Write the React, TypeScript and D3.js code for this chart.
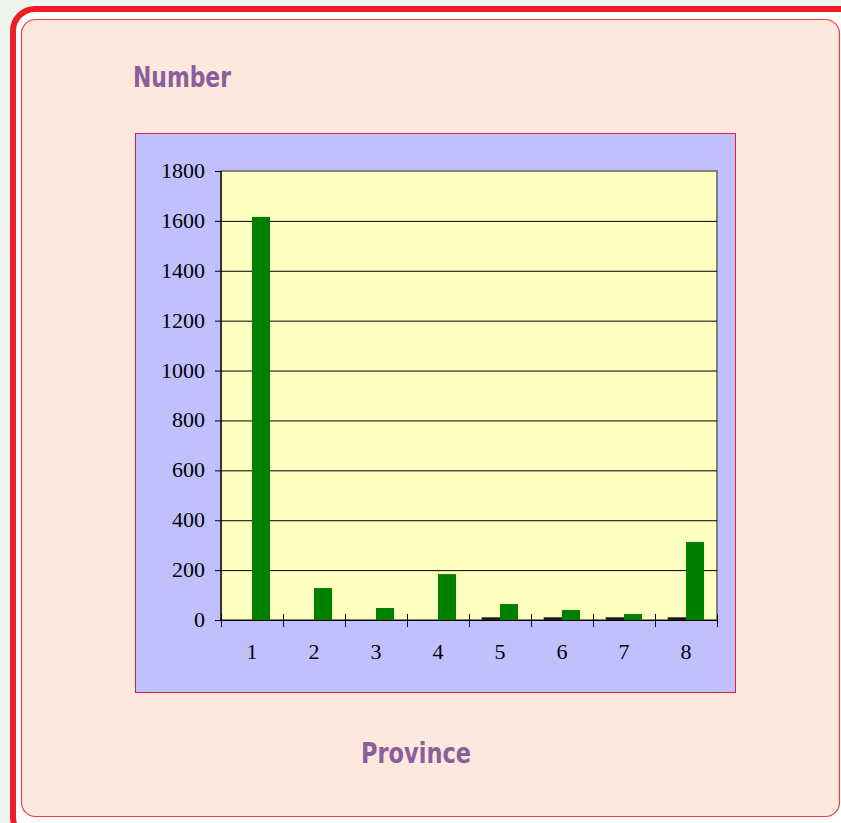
import React from 'react';
import * as d3 from 'd3';

const provinces = ['1', '2', '3', '4', '5', '6', '7', '8'];
const seriesDark = [0, 0, 0, 0, 10, 10, 10, 10];
const seriesGreen = [1616, 128, 48, 184, 64, 40, 24, 313];
const yTicks = [0, 200, 400, 600, 800, 1000, 1200, 1400, 1600, 1800];

const W = 841;
const H = 823;
const PLOT = { left: 221, right: 717, top: 171, bottom: 620 };
const TITLE_COLOR = '#8b5e9b';
const TITLE_FONT = '"DejaVu Sans Condensed", "DejaVu Sans", sans-serif';
const SERIF = '"Liberation Serif", "DejaVu Serif", serif';

export default function App() {
  const x = d3.scaleBand<string>()
    .domain(provinces)
    .range([PLOT.left, PLOT.right]);
  const y = d3.scaleLinear().domain([0, 1800]).range([PLOT.bottom, PLOT.top]);

  const inner = d3.scaleBand<string>()
    .domain(['dark', 'green'])
    .range([0, x.bandwidth()])
    .paddingOuter(0.72)
    .paddingInner(0);

  const rows = provinces.map((p, i) => ({ p, dark: seriesDark[i], green: seriesGreen[i] }));
  const boundaries = d3.range(provinces.length + 1).map(i => PLOT.left + i * x.step());

  return (
    <svg width={W} height={H} style={{ position: 'absolute', left: 0, top: 0 }}>
      <rect x={0} y={0} width={W} height={H} fill="#eef5ee" />
      {/* outer frame */}
      <rect x={13} y={9} width={850} height={830} rx={22} fill="#ffffff" stroke="#ee1c25" strokeWidth={6} />
      <rect x={21.5} y={19.5} width={818} height={797} rx={14} fill="#fde8dd" stroke="#ee3a45" strokeWidth={1.2} />

      <text x={133} y={87} fill={TITLE_COLOR} fontFamily={TITLE_FONT} fontWeight="bold" fontSize={29}
        textLength={98} lengthAdjust="spacingAndGlyphs">Number</text>
      <text x={361} y={763} fill={TITLE_COLOR} fontFamily={TITLE_FONT} fontWeight="bold" fontSize={29}
        textLength={110} lengthAdjust="spacingAndGlyphs">Province</text>

      {/* chart area */}
      <rect x={135.5} y={133.5} width={600} height={559} fill="#c0c0ff" stroke="#e0203a" strokeWidth={1} />
      <rect x={PLOT.left} y={PLOT.top} width={PLOT.right - PLOT.left} height={PLOT.bottom - PLOT.top}
        fill="#ffffc0" stroke="#808080" strokeWidth={2} />

      {yTicks.filter(t => t > 0 && t < 1800).map(t => (
        <line key={t} x1={PLOT.left} x2={PLOT.right} y1={y(t) + 0.5} y2={y(t) + 0.5} stroke="#000" strokeWidth={1} />
      ))}

      {rows.map(r => (
        <g key={r.p} transform={`translate(${x(r.p)},0)`}>
          {r.dark > 0 && (
            <rect x={inner('dark')} y={y(r.dark)} width={inner.bandwidth()} height={y(0) - y(r.dark)}
              fill="#111118" stroke="#444" strokeWidth={0.6} />
          )}
          <rect x={inner('green')} y={y(r.green)} width={inner.bandwidth()} height={y(0) - y(r.green)} fill="#008000" />
        </g>
      ))}

      {/* axes */}
      <line x1={PLOT.left} x2={PLOT.left} y1={PLOT.top} y2={PLOT.bottom} stroke="#000" strokeWidth={1.2} />
      <line x1={PLOT.left} x2={PLOT.right} y1={PLOT.bottom + 0.5} y2={PLOT.bottom + 0.5} stroke="#000" strokeWidth={1.2} />
      {yTicks.map(t => (
        <g key={t}>
          <line x1={PLOT.left - 6} x2={PLOT.left} y1={y(t) + 0.5} y2={y(t) + 0.5} stroke="#000" strokeWidth={1} />
          <text x={205} y={y(t) + 7} textAnchor="end" fontFamily={SERIF} fontSize={22} fill="#000">{t}</text>
        </g>
      ))}
      {boundaries.map((bx, i) => (
        <line key={i} x1={bx + 0.5} x2={bx + 0.5} y1={PLOT.bottom - 6} y2={PLOT.bottom + 7} stroke="#000" strokeWidth={1} />
      ))}
      {provinces.map(p => (
        <text key={p} x={(x(p) ?? 0) + x.bandwidth() / 2} y={659} textAnchor="middle" fontFamily={SERIF} fontSize={22} fill="#000">{p}</text>
      ))}
    </svg>
  );
}
